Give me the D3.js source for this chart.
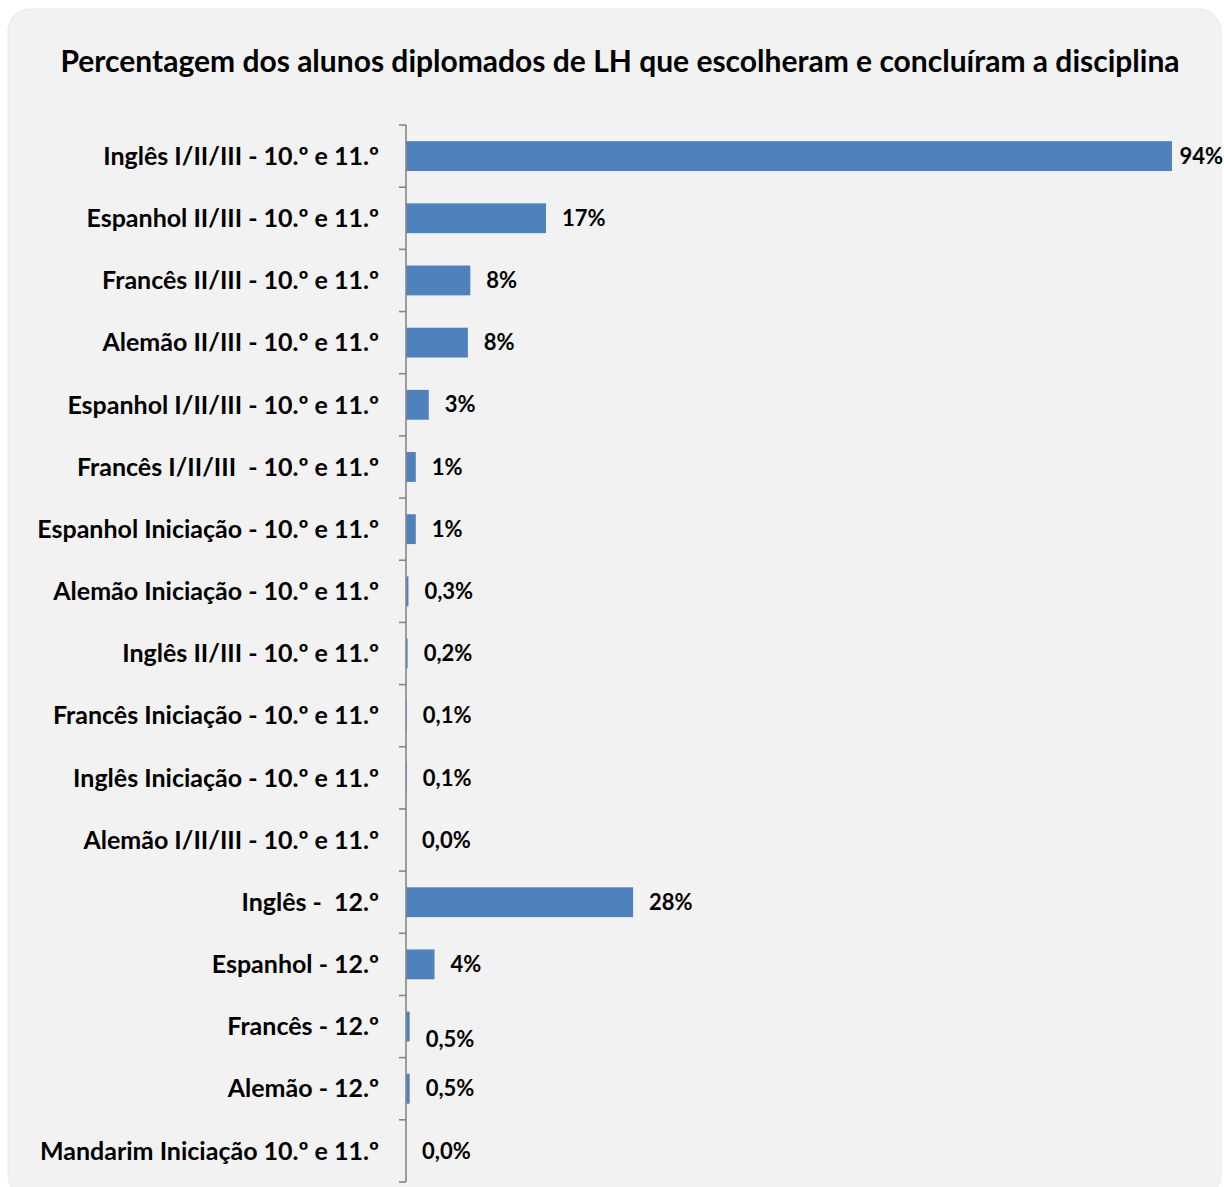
<!DOCTYPE html>
<html>
<head>
<meta charset="utf-8">
<script src="https://cdn.jsdelivr.net/npm/d3@7"></script>
<style>
  body { margin: 0; background: #fff; }
  svg { display: block; font-family: Lato, "Open Sans", sans-serif; font-weight: bold; }
  svg text { white-space: pre; }
</style>
</head>
<body>
<div id="chart"></div>
<script>
// categories, top to bottom
var categories = [
  "Inglês I/II/III - 10.º e 11.º",
  "Espanhol II/III - 10.º e 11.º",
  "Francês II/III - 10.º e 11.º",
  "Alemão II/III - 10.º e 11.º",
  "Espanhol I/II/III - 10.º e 11.º",
  "Francês I/II/III  - 10.º e 11.º",
  "Espanhol Iniciação - 10.º e 11.º",
  "Alemão Iniciação - 10.º e 11.º",
  "Inglês II/III - 10.º e 11.º",
  "Francês Iniciação - 10.º e 11.º",
  "Inglês Iniciação - 10.º e 11.º",
  "Alemão I/II/III - 10.º e 11.º",
  "Inglês -  12.º",
  "Espanhol - 12.º",
  "Francês - 12.º",
  "Alemão - 12.º",
  "Mandarim Iniciação 10.º e 11.º"
];
// percentage of graduates
var values = [94.1, 17.2, 7.9, 7.6, 2.8, 1.2, 1.2, 0.3, 0.2, 0.1, 0.1, 0.0, 27.9, 3.5, 0.45, 0.45, 0.0];

var title = "Percentagem dos alunos diplomados de LH que escolheram e concluíram a disciplina";

var W = 1224, H = 1187;
var svg = d3.select("#chart").append("svg")
  .attr("width", W)
  .attr("height", H);

// panel background
svg.append("rect")
  .attr("x", 8).attr("y", 9)
  .attr("width", 1213).attr("height", 1188)
  .attr("rx", 22).attr("ry", 22)
  .attr("fill", "#f2f2f2")
  .attr("stroke", "#e4e4e4")
  .attr("stroke-width", 0.8);

svg.append("text")
  .attr("x", 620).attr("y", 72)
  .attr("text-anchor", "middle")
  .attr("font-size", 30)
  .attr("fill", "#000")
  .text(title);

// scales
var x = d3.scaleLinear().domain([0, 100]).range([406, 1220]);
var y = d3.scaleBand()
  .domain(categories)
  .range([125, 1182])
  .paddingInner(0.52)
  .paddingOuter(0.26);

var pt = d3.formatLocale({decimal: ",", thousands: " ", grouping: [3], currency: ["", "%"]});
function fmt(v) {
  return v >= 1 ? pt.format(".0f")(v) + "%" : pt.format(".1f")(v) + "%";
}

// bars
svg.selectAll("rect.bar")
  .data(values)
  .enter()
  .append("rect")
  .attr("class", "bar")
  .attr("x", x(0))
  .attr("y", function(d, i) { return y(categories[i]); })
  .attr("width", function(d) { return x(d) - x(0); })
  .attr("height", y.bandwidth())
  .attr("fill", "#4f81bd");

// axis line and boundary ticks
svg.append("line")
  .attr("x1", x(0)).attr("x2", x(0))
  .attr("y1", 125).attr("y2", 1182)
  .attr("stroke", "#868686")
  .attr("stroke-width", 1.6);

svg.selectAll("line.tick")
  .data(d3.range(categories.length + 1))
  .enter()
  .append("line")
  .attr("class", "tick")
  .attr("x1", x(0) - 7).attr("x2", x(0))
  .attr("y1", function(i) { return 125 + i * y.step(); })
  .attr("y2", function(i) { return 125 + i * y.step(); })
  .attr("stroke", "#868686")
  .attr("stroke-width", 1.6);

// category labels
svg.selectAll("text.cat")
  .data(categories)
  .enter()
  .append("text")
  .attr("class", "cat")
  .attr("x", 379)
  .attr("y", function(d) { return y(d) + y.bandwidth() / 2; })
  .attr("dy", "0.35em")
  .attr("text-anchor", "end")
  .attr("font-size", 25)
  .attr("fill", "#000")
  .text(function(d) { return d; });

// value labels
var lbl = svg.selectAll("text.val")
  .data(values)
  .enter()
  .append("text")
  .attr("class", "val")
  .attr("y", function(d, i) {
    var c = y(categories[i]) + y.bandwidth() / 2;
    // the Francês 12.º label sits a bit lower in the original
    return i == 14 ? c + 13 : c;
  })
  .attr("dy", "0.35em")
  .attr("font-size", 22)
  .attr("fill", "#000")
  .text(function(d) { return fmt(d); });

lbl.attr("x", function(d) {
  var w = this.getComputedTextLength();
  return Math.min(x(d) + 16, 1223 - w);
});
</script>
</body>
</html>
